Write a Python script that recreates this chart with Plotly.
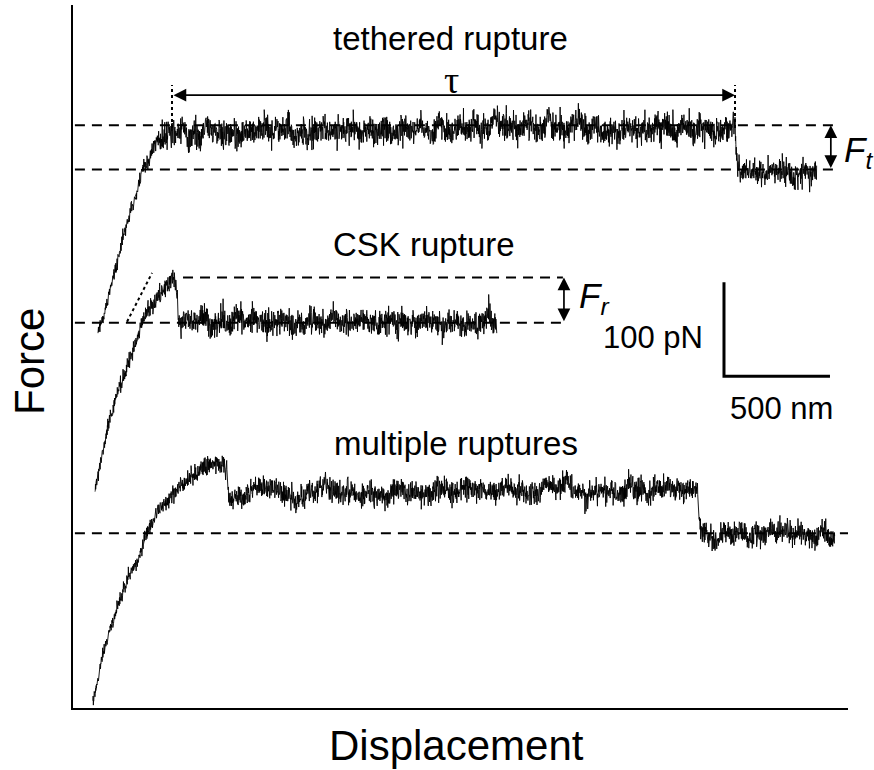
import numpy as np
import plotly.graph_objects as go

# ---------------- data (displacement in nm, force in pN) ----------------
SCALE_X_NM = 500
SCALE_Y_PN = 100

# tethered rupture trace: mean path nodes and noise level
teth_x = [118, 198, 269, 325, 373, 420, 481, 1071, 2014, 3123, 3132, 3509]
teth_y = [397, 466, 528, 567, 594, 606, 611, 614, 616, 615, 570, 570]
teth_s = [4.0, 4.0, 4.0, 4.2, 5.0, 6.5, 7.4, 7.4, 7.4, 7.4, 7.0, 7.0]

# CSK rupture trace
csk_x = [104, 175, 255, 316, 363, 410, 467, 486, 500, 2000]
csk_y = [232, 310, 363, 402, 427, 442, 455, 452, 411, 411]
csk_s = [3.8, 3.8, 4.2, 4.4, 5.0, 5.5, 5.8, 5.8, 7.0, 7.0]

# multiple ruptures trace
mult_x = [94, 142, 208, 255, 316, 354, 410, 472, 538, 599, 679, 708, 722, 736,
          882, 1047, 1212, 1354, 1637, 1920, 2203, 2486, 2722, 2943, 2958, 3594]
mult_y = [5, 59, 107, 136, 165, 189, 211, 229, 243, 253, 259, 262, 253, 221,
          235, 224, 236, 227, 230, 232, 233, 231, 234, 232, 186, 186]
mult_s = [3.4, 3.4, 3.6, 3.8, 4.0, 4.2, 4.4, 4.6, 4.8, 5.0, 5.2, 5.2, 5.8, 6.4,
          6.4, 6.4, 6.4, 6.4, 6.4, 6.4, 6.4, 6.4, 6.4, 6.4, 6.4, 6.4]

# reference force levels (dashed lines): (level, x start, x end)
teth_levels = [(620, 9, 3594), (573, 9, 3594)]
csk_levels = [(458, 519, 2311), (410, 9, 2311)]
mult_levels = [(186, 9, 3656)]

# tether lifetime tau: start / end displacement
tau_x = [467, 3123]
tau_y = 652
tau_dot_y = [617, 663]

# CSK loading-slope guide (dotted)
slope_x = [255, 373]
slope_y = [411, 463]

# scale bar corner
bar_x0, bar_y0 = 3071, 353

X_MAX, Y_MAX = 3656, 748

FONT = "Liberation Sans, Arial, sans-serif"

fig = go.Figure()

# noise texture for the recorded traces (seeded so the figure is reproducible)
rng = np.random.default_rng(11)


def trace_points(xn, yn, sn, step=1.0):
    x = np.arange(xn[0], xn[-1], step)
    base = np.interp(x, xn, yn)
    sig = np.interp(x, xn, sn)
    white = rng.normal(0, 1, x.size)
    k = 31
    slow = np.convolve(rng.normal(0, 1, x.size), np.ones(k) / np.sqrt(k), mode="same")
    return x, base + sig * (0.9 * white + 0.5 * slow)


# dashed reference levels (drawn under traces)
for lv, x0, x1 in teth_levels + csk_levels + mult_levels:
    fig.add_trace(go.Scatter(x=[x0, x1], y=[lv, lv], mode="lines",
                             line=dict(color="black", width=2, dash="10px,7px"),
                             hoverinfo="skip"))

for xn, yn, sn in [(teth_x, teth_y, teth_s), (csk_x, csk_y, csk_s), (mult_x, mult_y, mult_s)]:
    x, y = trace_points(xn, yn, sn)
    fig.add_trace(go.Scatter(x=x, y=y, mode="lines",
                             line=dict(color="black", width=0.9),
                             hoverinfo="skip"))

# dotted vertical markers for tau
for tx in tau_x:
    fig.add_trace(go.Scatter(x=[tx, tx], y=tau_dot_y, mode="lines",
                             line=dict(color="black", width=2, dash="dot"),
                             hoverinfo="skip"))

# dotted slope guide
fig.add_trace(go.Scatter(x=slope_x, y=slope_y, mode="lines",
                         line=dict(color="black", width=2, dash="dot"),
                         hoverinfo="skip"))

# scale bar
fig.add_trace(go.Scatter(x=[bar_x0, bar_x0, bar_x0 + SCALE_X_NM],
                         y=[bar_y0 + SCALE_Y_PN, bar_y0, bar_y0],
                         mode="lines", line=dict(color="black", width=3),
                         hoverinfo="skip"))

annotations = []


def double_arrow(x0, y0, x1, y1):
    annotations.append(dict(x=x1, y=y1, ax=x0, ay=y0, xref="x", yref="y",
                            axref="x", ayref="y", text="", showarrow=True,
                            arrowhead=2, arrowside="end+start", arrowsize=1.5,
                            arrowwidth=1.7, arrowcolor="black"))


double_arrow(tau_x[0], tau_y, tau_x[1], tau_y)
double_arrow(3575, teth_levels[1][0], 3575, teth_levels[0][0])
double_arrow(2316, csk_levels[1][0], 2316, csk_levels[0][0])


def px_text(px, py, text, size, angle=0, family=FONT):
    annotations.append(dict(x=(px - 73) / 775, y=(708 - py) / 703, xref="paper",
                            yref="paper", text=text, showarrow=False,
                            font=dict(family=family, size=size, color="black"),
                            textangle=angle, xanchor="center", yanchor="middle"))


px_text(450, 39, "tethered rupture", 33)
px_text(451, 80, "τ", 38, family="Liberation Serif, Times New Roman, serif")
px_text(424, 245, "CSK rupture", 33)
px_text(456, 443, "multiple ruptures", 33)
px_text(653, 337, "100 pN", 31)
px_text(781, 408, "500 nm", 31)
px_text(858, 152, "<i>F<sub>t</sub></i>", 35)
px_text(594, 298, "<i>F<sub>r</sub></i>", 35)
px_text(29, 362, "Force", 42, angle=-90)
px_text(456, 745, "Displacement", 42)

fig.update_layout(
    width=874, height=770,
    margin=dict(l=73, r=26, t=5, b=62),
    paper_bgcolor="white", plot_bgcolor="white",
    showlegend=False,
    annotations=annotations,
    xaxis=dict(range=[0, X_MAX], showgrid=False, zeroline=False, showticklabels=False,
               ticks="", showline=True, linecolor="black", linewidth=2, fixedrange=True),
    yaxis=dict(range=[0, Y_MAX], showgrid=False, zeroline=False, showticklabels=False,
               ticks="", showline=True, linecolor="black", linewidth=2, fixedrange=True),
)

fig.write_html("out.html")
